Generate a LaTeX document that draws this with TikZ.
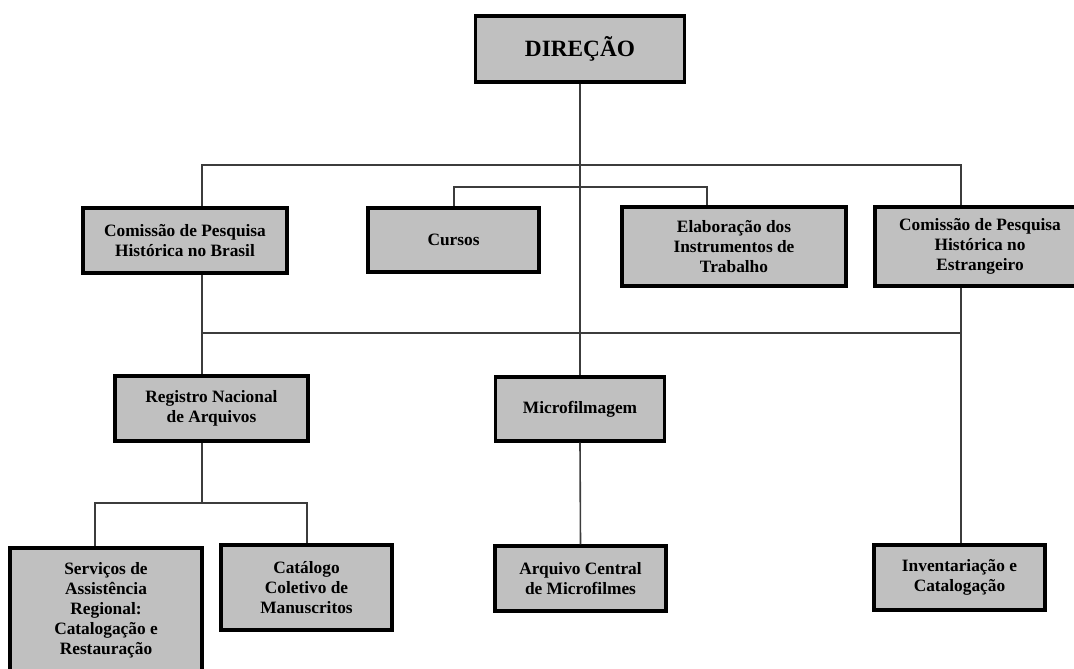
\documentclass[tikz,border=0pt]{standalone}
\usepackage{fontspec}
\setmainfont{Liberation Serif}
\usepackage{xcolor}
\usepackage{tikz}
\tikzset{>=latex}
\usetikzlibrary{calc}
\definecolor{boxgray}{HTML}{C0C0C0}
\definecolor{linkgray}{HTML}{3C3C3C}
\tikzset{
	orgbox/.style={draw=black,line width=2.3pt,fill=boxgray,align=center,inner sep=2pt,
		font=\bfseries\fontsize{13}{15}\selectfont},
	link/.style={linkgray,line width=1.2pt}
}

\begin{document}
\begin{tikzpicture}[x=0.75pt,y=-0.75pt]
		\useasboundingbox (0,0) rectangle (1074,668);

		\node[orgbox,minimum width=156.75pt,minimum height=49.5pt,font=\bfseries\fontsize{17.5}{20}\selectfont] (dir) at (580,49) {DIREÇÃO};
		\node[orgbox,minimum width=153pt,minimum height=48.75pt] (cpb) at (185,240.5) {Comissão de Pesquisa\\Histórica no Brasil};
		\node[orgbox,minimum width=128.25pt,minimum height=48pt] (cur) at (453.5,240) {Cursos};
		\node[orgbox,minimum width=168pt,minimum height=59.25pt] (ela) at (734,246.5) {Elaboração dos\\Instrumentos de\\Trabalho};
		\node[orgbox,minimum width=157.5pt,minimum height=59.25pt] (cpe) at (980,246.5) {Comissão de Pesquisa\\Histórica no\\Estrangeiro};
		\node[orgbox,minimum width=144.75pt,minimum height=48.75pt] (reg) at (211.5,408.5) {Registro Nacional\\de Arquivos};
		\node[orgbox,minimum width=126.75pt,minimum height=48pt] (mic) at (580,409) {Microfilmagem};
		\node[orgbox,minimum width=144pt,minimum height=93pt] (ser) at (106,610) {Serviços de\\Assistência\\Regional:\\Catalogação e\\Restauração};
		\node[orgbox,minimum width=128.25pt,minimum height=63.75pt] (cat) at (306.5,587.5) {Catálogo\\Coletivo de\\Manuscritos};
		\node[orgbox,minimum width=128.25pt,minimum height=48.75pt] (arq) at (580.5,578.5) {Arquivo Central\\de Microfilmes};
		\node[orgbox,minimum width=128.25pt,minimum height=48.75pt] (inv) at (959.5,577.5) {Inventariação e\\Catalogação};

		% bus corners
		\coordinate (topL) at (202,165);
		\coordinate (topR) at (961,165);
		\coordinate (midL) at (454,187);
		\coordinate (midR) at (707,187);
		\coordinate (lowL) at (202,333);
		\coordinate (lowR) at (961,333);
		\coordinate (subL) at (95,503);
		\coordinate (subR) at (307,503);

		\begin{scope}[on background layer/.try]
		\draw[link] (dir.south) -- (mic.north);
		\draw[link] (cpb.north -| topL) -- (topL) -- (topR) -- (cpe.north -| topR);
		\draw[link] (cur.north -| midL) -- (midL) -- (midR) -- (ela.north -| midR);
		\draw[link] (cpb.south -| lowL) -- (reg.north -| lowL);
		\draw[link] (lowL) -- (lowR);
		\draw[link] (cpe.south -| lowR) -- (inv.north -| lowR);
		\draw[link] (mic.south) -- (arq.north);
		\draw[link] (reg.south -| lowL) -- (lowL |- subL);
		\draw[link] (ser.north -| subL) -- (subL) -- (subR) -- (cat.north -| subR);
		\end{scope}
	\end{tikzpicture}
\end{document}
